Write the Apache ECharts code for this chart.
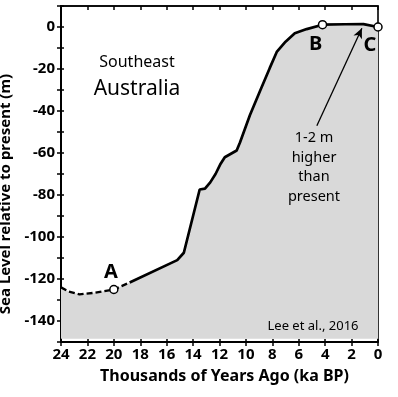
<!DOCTYPE html>
<html>
<head>
<meta charset="utf-8">
<script src="https://cdn.jsdelivr.net/npm/echarts@6/dist/echarts.min.js"></script>
<style>
html,body{margin:0;padding:0;background:#fff;}
#chart{width:398px;height:397px;}
</style>
</head>
<body>
<div id="chart"></div>
<script>
// Data (ka BP vs sea level in m)
const dashedAges   = [24, 23.4, 22.6, 21.5, 20, 18.8];
const dashedLevels = [-124, -126, -127.3, -126.6, -125, -121.7];
const solidAges   = [18.8, 15.2, 14.7, 13.5, 13.1, 12.7, 12.3, 11.95, 11.6, 10.7, 10.45, 9.7, 8.9, 8.2, 7.65, 7.0, 6.3, 5.4, 4.2, 2.5, 1.1, 0];
const solidLevels = [-121.7, -111, -107.5, -77.4, -77, -74, -70, -65.5, -62, -58.8, -55, -42, -30, -19.6, -11.7, -7, -3, -1, 1.1, 1.3, 1.4, 0];
const markerAges   = [20, 4.2, 0];
const markerLevels = [-125, 1.1, 0];
const markerNames  = ['A', 'B', 'C'];
const xTicks = {min: 0, max: 24, step: 2};
const yTicks = {min: -150, max: 10, step: 10};
const arrowFrom = [4.63, -47];
const arrowTo   = [1.22, -0.6];

const FONT = 'Noto Sans';
const zip = (a, b) => a.map((v, i) => [v, b[i]]);
const dashed = zip(dashedAges, dashedLevels);
const solid = zip(solidAges, solidLevels);
const fill = dashed.concat(solid.slice(1));

const chart = echarts.init(document.getElementById('chart'), null, {renderer: 'canvas'});
const baseX = {type: 'value', min: xTicks.min, max: xTicks.max, interval: xTicks.step, inverse: true,
  splitLine: {show: false}};
const baseY = {type: 'value', min: yTicks.min, max: yTicks.max, interval: yTicks.step,
  splitLine: {show: false}};
const labelOffsets = [[-3, -17], [-7, 20], [-8, 18]];

chart.setOption({
  animation: false,
  grid: {left: 61, right: 20, top: 6, bottom: 55, containLabel: false, outerBoundsMode: 'none',
    show: true, borderColor: '#000', borderWidth: 1.6, backgroundColor: 'transparent'},
  xAxis: [
    Object.assign({}, baseX, {position: 'bottom',
      axisLine: {show: true, onZero: false, lineStyle: {color: '#000', width: 2}},
      axisTick: {show: true, inside: false, length: 4, lineStyle: {color: '#000', width: 1.5}},
      axisLabel: {show: true, color: '#000', fontFamily: FONT, fontWeight: 'bold', fontSize: 15, margin: 5},
      name: 'Thousands of Years Ago (ka BP)', nameLocation: 'middle', nameGap: 26,
      nameTextStyle: {color: '#000', fontFamily: FONT, fontWeight: 'bold', fontSize: 16, padding: [0, 0, 0, 10]}}),
    Object.assign({}, baseX, {position: 'bottom',
      axisLine: {show: false, onZero: false},
      axisTick: {show: true, inside: true, length: 3, lineStyle: {color: '#000', width: 1.5}},
      axisLabel: {show: false}}),
    Object.assign({}, baseX, {position: 'top',
      axisLine: {show: true, onZero: false, lineStyle: {color: '#000', width: 1.6}},
      axisTick: {show: true, inside: true, length: 4, lineStyle: {color: '#000', width: 1.5}},
      axisLabel: {show: false}})
  ],
  yAxis: [
    Object.assign({}, baseY, {position: 'left',
      axisLine: {show: true, onZero: false, lineStyle: {color: '#000', width: 2}},
      axisTick: {show: true, inside: false, length: 4, lineStyle: {color: '#000', width: 1.5}},
      axisLabel: {show: true, color: '#000', fontFamily: FONT, fontWeight: 'bold', fontSize: 15, margin: 6,
        formatter: v => (v % 20 === 0 && v <= 0) ? String(v) : ''},
      name: 'Sea Level relative to present (m)', nameLocation: 'middle', nameGap: 31,
      nameTextStyle: {color: '#000', fontFamily: FONT, fontWeight: 'bold', fontSize: 15, padding: [0, 40, 0, 0]}}),
    Object.assign({}, baseY, {position: 'left',
      axisLine: {show: false, onZero: false},
      axisTick: {show: true, inside: true, length: 3, lineStyle: {color: '#000', width: 1.5}},
      axisLabel: {show: false}})
  ],
  series: [
    {type: 'line', data: fill, showSymbol: false, symbol: 'none', lineStyle: {width: 0, opacity: 0},
      areaStyle: {color: '#d9d9d9', opacity: 1, origin: -148.5}, z: 1, silent: true},
    {type: 'line', data: dashed, symbol: 'none', lineStyle: {color: '#000', width: 2.4, type: [6, 3]}, z: 3},
    {type: 'line', data: solid, symbol: 'none', lineStyle: {color: '#000', width: 2.7}, z: 3,
      markLine: {silent: true, symbol: ['none', 'arrow'], symbolSize: [7, 10],
        lineStyle: {color: '#000', width: 1.3, type: 'solid'}, label: {show: false},
        data: [[{coord: arrowFrom}, {coord: arrowTo}]]}},
    {type: 'scatter', clip: false, z: 5,
      data: markerAges.map((a, i) => ({value: [a, markerLevels[i]], name: markerNames[i],
        label: {offset: labelOffsets[i]}})),
      symbol: 'circle', symbolSize: 8,
      itemStyle: {color: '#fff', borderColor: '#000', borderWidth: 1.5, opacity: 1},
      label: {show: true, position: 'inside', formatter: p => p.name, color: '#000',
        fontFamily: FONT, fontWeight: 'bold', fontSize: 20}}
  ],
  graphic: [
    {type: 'text', z: 20, x: 137, y: 62, style: {text: 'Southeast', fill: '#000', font: '16px "Noto Sans"', textAlign: 'center', textVerticalAlign: 'middle'}},
    {type: 'text', z: 20, x: 137, y: 89, style: {text: 'Australia', fill: '#000', font: '21px "Noto Sans"', textAlign: 'center', textVerticalAlign: 'middle'}},
    {type: 'text', z: 20, x: 314, y: 167.5, style: {text: '1-2 m\nhigher\nthan\npresent', fill: '#000', font: '14.5px "Noto Sans"', lineHeight: 19.7, textAlign: 'center', textVerticalAlign: 'middle'}},
    {type: 'text', z: 20, x: 313, y: 326, style: {text: 'Lee et al., 2016', fill: '#000', font: '13px "Noto Sans"', textAlign: 'center', textVerticalAlign: 'middle'}}
  ]
});
</script>
</body>
</html>
